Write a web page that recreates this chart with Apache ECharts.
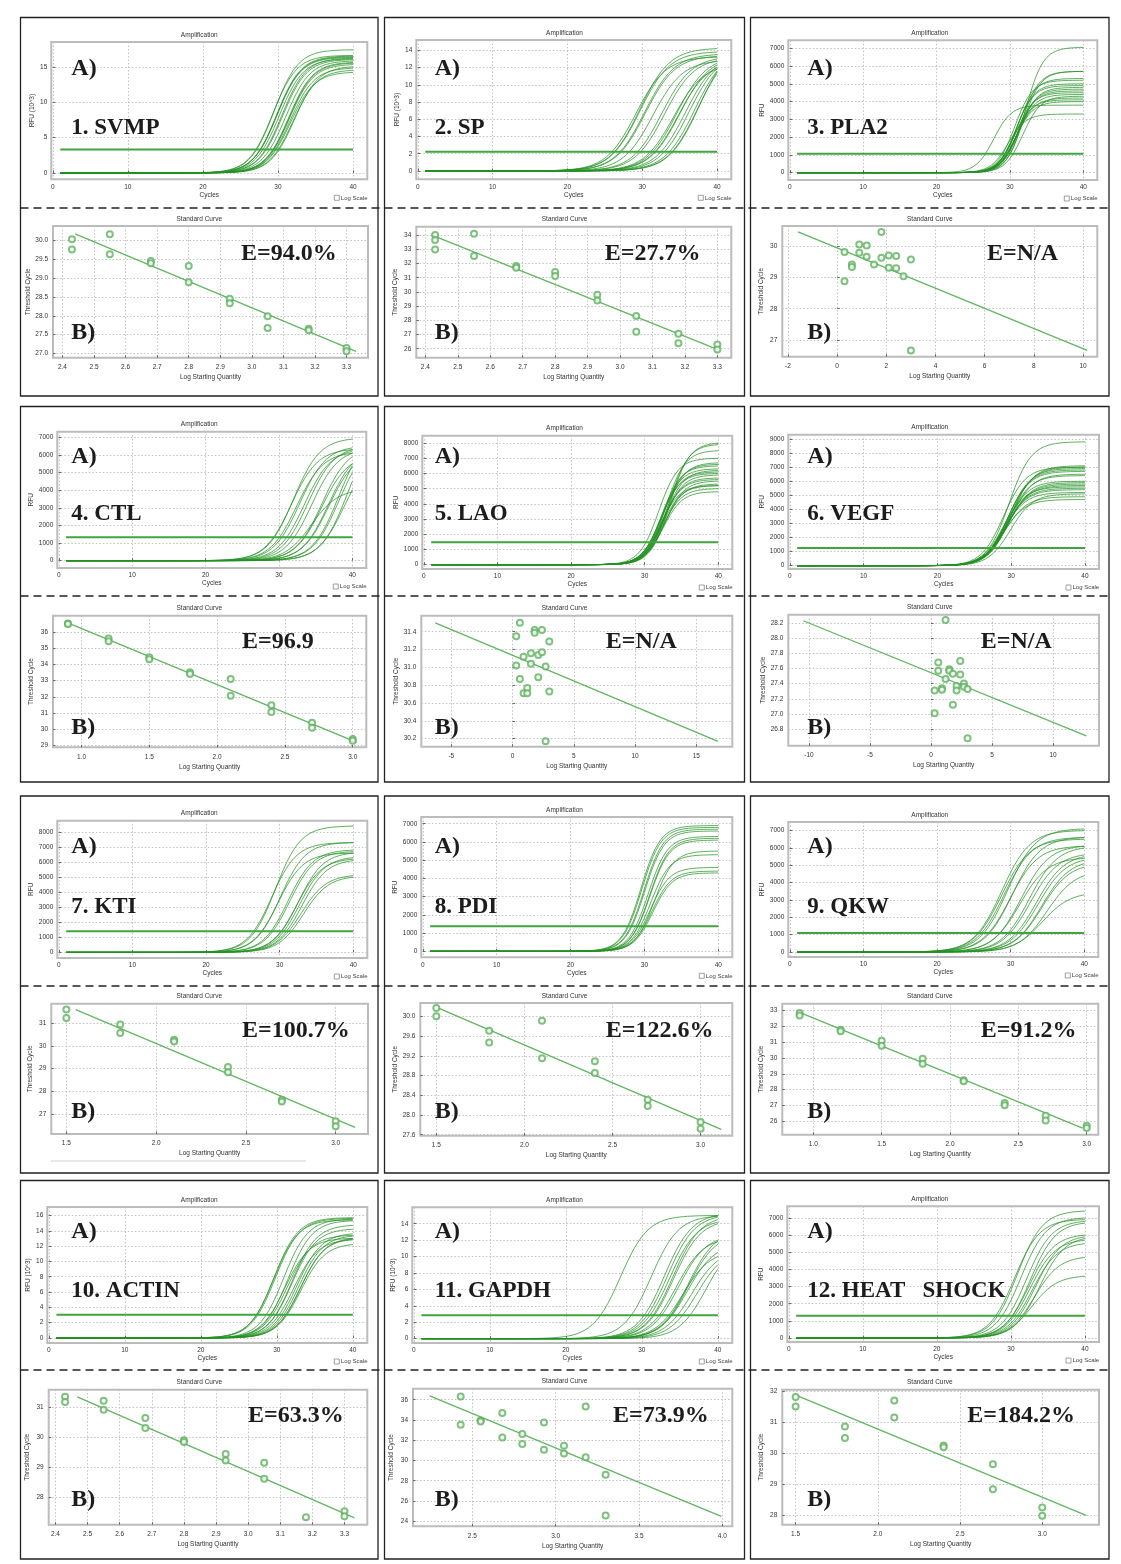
<!DOCTYPE html>
<html><head><meta charset="utf-8">
<script src="https://cdn.jsdelivr.net/npm/echarts@6/dist/echarts.min.js"></script>
<style>html,body{margin:0;padding:0;background:#fff}#c{width:1121px;height:1564px}</style>
</head><body><div id="c"></div><script>
// ================= DATA =================
const panelNames = ['1. SVMP','2. SP','3. PLA2','4. CTL','5. LAO','6. VEGF','7. KTI','8. PDI','9. QKW','10. ACTIN','11. GAPDH','12. HEAT   SHOCK'];
const efficiencyLabels = ['E=94.0%','E=27.7%','E=N/A','E=96.9','E=N/A','E=N/A','E=100.7%','E=122.6%','E=91.2%','E=63.3%','E=73.9%','E=184.2%'];
const ampTitle = 'Amplification', stdTitle = 'Standard Curve';
const ampXName = 'Cycles', stdXName = 'Log Starting Quantity', stdYName = 'Threshold Cycle';
const ampYNames = ['RFU (10^3)','RFU (10^3)','RFU','RFU','RFU','RFU','RFU','RFU','RFU','RFU (10^3)','RFU (10^3)','RFU'];

// tick labels
const ampXTicks = ['0','10','20','30','40'];
const ampYTicks = [
  ['0','5','10','15'],
  ['0','2','4','6','8','10','12','14'],
  ['0','1000','2000','3000','4000','5000','6000','7000'],
  ['0','1000','2000','3000','4000','5000','6000','7000'],
  ['0','1000','2000','3000','4000','5000','6000','7000','8000'],
  ['0','1000','2000','3000','4000','5000','6000','7000','8000','9000'],
  ['0','1000','2000','3000','4000','5000','6000','7000','8000'],
  ['0','1000','2000','3000','4000','5000','6000','7000'],
  ['0','1000','2000','3000','4000','5000','6000','7000'],
  ['0','2','4','6','8','10','12','14','16'],
  ['0','2','4','6','8','10','12','14'],
  ['0','1000','2000','3000','4000','5000','6000','7000']
];
const stdXTicks = [
  ['2.4','2.5','2.6','2.7','2.8','2.9','3.0','3.1','3.2','3.3'],
  ['2.4','2.5','2.6','2.7','2.8','2.9','3.0','3.1','3.2','3.3'],
  ['-2','0','2','4','6','8','10'],
  ['1.0','1.5','2.0','2.5','3.0'],
  ['-5','0','5','10','15'],
  ['-10','-5','0','5','10'],
  ['1.5','2.0','2.5','3.0'],
  ['1.5','2.0','2.5','3.0'],
  ['1.0','1.5','2.0','2.5','3.0'],
  ['2.4','2.5','2.6','2.7','2.8','2.9','3.0','3.1','3.2','3.3'],
  ['2.5','3.0','3.5','4.0'],
  ['1.5','2.0','2.5','3.0']
];
const stdYTicks = [
  ['27.0','27.5','28.0','28.5','29.0','29.5','30.0'],
  ['26','27','28','29','30','31','32','33','34'],
  ['27','28','29','30'],
  ['29','30','31','32','33','34','35','36'],
  ['30.2','30.4','30.6','30.8','31.0','31.2','31.4'],
  ['26.8','27.0','27.2','27.4','27.6','27.8','28.0','28.2'],
  ['27','28','29','30','31'],
  ['27.6','28.0','28.4','28.8','29.2','29.6','30.0'],
  ['26','27','28','29','30','31','32','33'],
  ['28','29','30','31'],
  ['24','26','28','30','32','34','36'],
  ['28','29','30','31','32']
];

// thresholds (RFU)
const thresholds = [3.3, 2.24, 1070, 1325, 1470, 1255, 1400, 1370, 1100, 3.04, 2.84, 1300];

// standard curve: log starting quantity, threshold cycle (Ct) ; amplification end RFU (cycle 40)
const logQ1 = [2.43,2.43,2.55,2.55,2.68,2.68,2.80,2.80,2.93,2.93,3.05,3.05,3.18,3.18,3.30,3.30];
const ct1   = [30.03,29.76,30.16,29.63,29.45,29.39,29.32,28.89,28.45,28.33,27.99,27.68,27.66,27.62,27.15,27.06];
const end1  = [14.5,14.2,15.0,14.8,15.3,15.5,15.6,15.8,16.0,16.2,16.1,16.3,16.4,16.5,17.4,16.6];
const fit1  = [[2.44,30.17],[3.33,27.06]];

const logQ2 = [2.43,2.43,2.43,2.55,2.55,2.68,2.68,2.80,2.80,2.93,2.93,3.05,3.05,3.18,3.18,3.30,3.30];
const ct2   = [34.0,33.65,32.99,34.1,32.52,31.82,31.70,31.40,31.12,29.80,29.40,28.30,27.20,27.06,26.38,26.30,25.95];
const end2  = [11.3,11.6,11.9,11.5,12.1,12.3,12.0,12.5,11.8,12.8,13.0,12.7,13.3,13.5,13.8,14.2,13.2];
const fit2  = [[2.42,34.0],[3.30,25.95]];

const logQ3 = [0.3,0.3,0.6,0.6,0.9,0.9,1.2,1.2,1.5,1.8,1.8,2.1,2.1,2.4,2.4,2.7,3.0,3.0];
const ct3   = [29.81,28.88,29.41,29.33,30.05,29.79,30.02,29.66,29.41,30.45,29.63,29.70,29.31,29.68,29.29,29.04,29.57,26.67];
const end3  = [5700,3300,5300,5000,7050,4800,5700,4600,4500,4300,4200,4400,4100,4700,4900,5200,4000,3800];
const fit3  = [[-1.59,30.45],[10.17,26.67]];

const logQ4 = [0.9,0.9,1.2,1.2,1.5,1.5,1.8,1.8,2.1,2.1,2.4,2.4,2.7,2.7,3.0,3.0];
const ct4   = [36.56,36.52,35.63,35.45,34.45,34.34,33.52,33.42,33.10,32.07,31.48,31.05,30.38,30.07,29.37,29.27];
const end4  = [4000,4500,5000,5400,5300,5500,5500,5900,3900,6100,6300,6200,6400,6100,6900,6300];
const fit4  = [[0.90,36.6],[3.03,29.16]];

const logQ5 = [0.6,0.3,0.3,0.9,0.6,0.9,1.2,1.2,1.5,1.5,1.8,1.8,2.1,2.1,2.4,2.4,2.7,2.7,3.0,3.0];
const ct5   = [31.50,31.35,31.02,31.12,30.87,30.71,30.77,30.71,31.16,31.04,31.42,31.39,31.14,30.89,31.42,31.17,31.01,30.17,31.29,30.73];
const end5  = [8000,7900,7500,6700,6600,6500,6100,6000,5900,5700,5500,5300,5200,5200,4800,6200,5600,7000,5000,6300];
const fit5  = [[-6.31,31.50],[16.77,30.17]];

const logQ6 = [1.2,0.6,0.6,0.9,0.9,0.3,0.3,1.2,1.5,1.5,1.8,1.8,2.1,2.1,2.4,2.4,2.7,2.7,3.0,3.0];
const ct6   = [28.24,27.68,27.57,27.34,27.32,27.31,27.01,27.46,27.59,27.57,27.53,27.12,27.37,27.31,27.70,27.52,27.40,27.36,27.33,26.68];
const end6  = [5100,7100,7000,6900,6800,6700,8800,6400,5900,5800,5700,5600,5500,5200,6500,4900,4700,5400,6000,7000];
const fit6  = [[-10.46,28.23],[12.73,26.71]];

const logQ7 = [1.5,1.5,1.8,1.8,2.1,2.1,2.4,2.4,2.7,2.7,3.0,3.0];
const ct7   = [31.59,31.22,30.93,30.56,30.27,30.19,29.07,28.83,27.63,27.55,26.68,26.46];
const end7  = [5000,5100,6100,6300,6600,6200,6700,6800,7300,6600,8400,7300];
const fit7  = [[1.552,31.59],[3.108,26.41]];

const logQ8 = [1.5,1.5,1.8,1.8,2.1,2.1,2.4,2.4,2.7,2.7,3.0,3.0];
const ct8   = [30.17,30.00,29.71,29.47,29.91,29.15,29.09,28.85,28.31,28.18,27.86,27.72];
const end8  = [4300,4400,4600,5300,5500,6100,6200,6300,6600,6700,6800,6900];
const fit8  = [[1.509,30.17],[3.117,27.71]];

const logQ9 = [0.9,0.9,1.2,1.2,1.5,1.5,1.8,1.8,2.1,2.1,2.4,2.4,2.7,2.7,3.0,3.0];
const ct9   = [32.83,32.68,31.78,31.68,31.09,30.77,29.95,29.64,28.59,28.53,27.16,27.01,26.36,26.06,25.73,25.58];
const end9  = [3300,4400,4900,5100,5300,5500,5600,6000,5400,6100,6600,6100,7100,6600,6500,7000];
const fit9  = [[0.89,32.9],[2.97,25.58]];

const logQ10 = [2.43,2.43,2.55,2.55,2.68,2.68,2.80,2.80,2.93,2.93,3.05,3.05,3.18,3.30,3.30];
const ct10   = [31.35,31.18,31.22,30.92,30.64,30.31,29.90,29.84,29.44,29.22,29.14,28.61,27.32,27.52,27.35];
const end10  = [12.2,12.9,13.0,13.3,13.6,12.8,14.2,14.7,13.4,15.3,13.0,15.5,15.7,15.6,15.4];
const fit10  = [[2.468,31.35],[3.331,27.30]];

const logQ11 = [2.43,2.43,2.55,2.55,2.68,2.68,2.80,2.80,2.93,2.93,3.05,3.05,3.18,3.18,3.30,3.30];
const ct11   = [36.33,33.53,33.96,33.86,34.68,32.28,32.61,31.62,33.76,31.07,31.46,30.70,35.34,30.31,28.60,24.56];
const end11  = [8.5,10.0,10.5,11.5,9.5,11.8,12.0,14.0,11.9,14.2,14.5,14.8,9.0,15.0,14.9,15.0];
const fit11  = [[2.244,36.39],[3.994,24.49]];

const logQ12 = [1.5,1.5,1.8,1.8,2.1,2.1,2.4,2.4,2.7,2.7,3.0,3.0];
const ct12   = [31.81,31.51,30.86,30.49,31.70,31.15,30.24,30.19,29.64,28.83,28.24,27.97];
const end12  = [3600,4700,5500,5700,5800,5900,6000,6700,6800,7000,7400,6900];
const fit12  = [[1.516,31.84],[3.267,27.98]];

// ================= LAYOUT (positions / scales) =================
const boxX = [20.5, 384.5, 750.5], boxW = [357.5, 360, 358.5];
const boxY = [17.5, 406.5, 796, 1180.5], boxH = [378.5, 375.5, 377, 378.5];
const dashY = [208, 596, 986, 1370];
const ampFrames = [
 [51.3,42,367.3,179.3],[416.3,40,731.3,179.3],[788.3,40.3,1097.3,180],
 [57.3,431.7,366.3,568],[422.3,435.7,732.3,569],[788.3,434.7,1099,569],
 [57.3,820.7,367.3,958],[421.3,817,732.3,957.3],[788.3,822,1098.3,957],
 [47.3,1207,367.3,1343],[412.3,1207.3,732.3,1343],[787.3,1206.3,1099,1342]];
const stdFrames = [
 [53,226,368,357.7],[416.3,226.7,731.3,357.7],[782.3,226,1097.3,356.7],
 [53,615.7,366.3,747.3],[421.3,615.7,732.3,746.7],[788.3,614.7,1099,745.7],
 [51.3,1003.7,368,1134],[420.3,1003,732.3,1135.7],[782.3,1003.7,1098.3,1134.7],
 [48.7,1389.7,367.3,1524.7],[413,1388.7,732.3,1526.3],[782.3,1389.7,1099,1524.7]];
const ampXRange = [-0.2, 41.9];
const ampYRange = [[-0.9,18.5],[-0.97,15.2],[-413,7450],[-416,7320],[-285,8490],[-237,9310],[-377,8760],[-330,7370],[-290,7500],[-0.65,17.1],[-0.53,16.0],[-233,7680]];
const stdXRange = [[2.37,3.368],[2.372,3.343],[-2.23,10.58],[0.79,3.10],[-7.45,17.94],[-11.69,13.77],[1.416,3.18],[1.409,3.18],[0.773,3.085],[2.379,3.371],[2.144,4.06],[1.419,3.345]];
const stdYRange = [[26.89,30.38],[25.37,34.59],[26.47,30.64],[28.86,37.04],[30.11,31.58],[26.58,28.31],[26.12,31.85],[27.58,30.27],[25.16,33.42],[27.07,31.59],[23.5,37.09],[27.68,32.05]];
const curveSteep = [1.6, 2.0, 1.2, 1.8, 1.3, 1.5, 1.7, 1.3, 1.9, 1.6, 1.8, 1.7];
const labelAX = [71.3, 434.7, 807.3];
const labelAY = [69, 457, 846.3, 1231.3];
const nameY = [128, 514, 907.3, 1291.3];
const labelBY = [333, 727.3, 1111.3, 1499.5];
const effX = [241, 604.7, 987, 242, 605.7, 980.7, 242, 605.7, 980.7, 248, 613, 967.3];
const effY = [253.5, 641.5, 1030.3, 1415.8];

// ================= BUILD =================
const logQs = [logQ1,logQ2,logQ3,logQ4,logQ5,logQ6,logQ7,logQ8,logQ9,logQ10,logQ11,logQ12];
const cts = [ct1,ct2,ct3,ct4,ct5,ct6,ct7,ct8,ct9,ct10,ct11,ct12];
const ends = [end1,end2,end3,end4,end5,end6,end7,end8,end9,end10,end11,end12];
const fits = [fit1,fit2,fit3,fit4,fit5,fit6,fit7,fit8,fit9,fit10,fit11,fit12];

const cycles = [];
for (let c = 1; c <= 40.001; c += 0.5) cycles.push(c);

// amplification trace anchored on the read threshold cycle and the read end RFU
function trace(ct, end, thr, s) {
  const k = Math.exp((ct - 40) / s);
  let A = (end - thr) / Math.max(thr - end * k, thr * 0.05);
  const P = thr * (1 + A);
  const m = ct + s * Math.log(A);
  return cycles.map(c => [c, P / (1 + Math.exp(-(c - m) / s))]);
}

const FONT = 'Liberation Sans';
function axis(gridIndex, range, ticks, name, nameGap, margin) {
  const vals = ticks.map(Number);
  const dec = ticks[ticks.length - 1].includes('.') ? ticks[ticks.length - 1].split('.')[1].length : 0;
  return {
    type: 'value', gridIndex, min: range[0], max: range[1],
    name, nameLocation: 'middle', nameGap,
    nameTextStyle: { fontSize: 6.5, color: '#333', fontFamily: FONT },
    axisLine: { show: false },
    axisTick: { show: true, inside: true, length: 2.5, customValues: vals, lineStyle: { color: '#666', width: 1 } },
    axisLabel: { customValues: vals, fontSize: 6.5, color: '#333', fontFamily: FONT, margin, formatter: v => Number(v).toFixed(dec) },
    splitLine: { show: true, lineStyle: { color: '#c2c2c2', type: [1.5, 2], width: 1 } }
  };
}

const grids = [], xAxes = [], yAxes = [], series = [], graphics = [];

for (let i = 0; i < 12; i++) {
  const col = i % 3, row = Math.floor(i / 3);
  const fa = ampFrames[i], fs = stdFrames[i];
  const gA = 2 * i, gS = 2 * i + 1;
  grids.push({ left: fa[0], top: fa[1], width: fa[2] - fa[0], height: fa[3] - fa[1], show: true, borderColor: '#bcbcbc', borderWidth: 2, backgroundColor: '#fff' });
  grids.push({ left: fs[0], top: fs[1], width: fs[2] - fs[0], height: fs[3] - fs[1], show: true, borderColor: '#bcbcbc', borderWidth: 2, backgroundColor: '#fff' });
  xAxes.push(axis(gA, ampXRange, ampXTicks, ampXName, 12, 4));
  yAxes.push(axis(gA, ampYRange[i], ampYTicks[i], ampYNames[i], 15, 4));
  xAxes.push(axis(gS, stdXRange[i], stdXTicks[i], stdXName, 16, 6));
  yAxes.push(axis(gS, stdYRange[i], stdYTicks[i], stdYName, 18, 5));

  // amplification traces
  const s = curveSteep[i];
  cts[i].forEach((ct, j) => {
    series.push({ type: 'line', xAxisIndex: gA, yAxisIndex: gA, data: trace(ct, ends[i][j], thresholds[i], s),
      showSymbol: false, silent: true, animation: false, lineStyle: { width: 1, color: 'rgba(35,145,35,0.72)' }, z: 2 });
  });
  // threshold
  series.push({ type: 'line', xAxisIndex: gA, yAxisIndex: gA, data: [[1, thresholds[i]], [40, thresholds[i]]],
    showSymbol: false, silent: true, animation: false, lineStyle: { width: 2, color: '#3fa63f' }, z: 3 });
  // standard curve fit line
  series.push({ type: 'line', xAxisIndex: gS, yAxisIndex: gS, data: fits[i],
    showSymbol: false, silent: true, animation: false, lineStyle: { width: 1.3, color: '#62b662' }, z: 2 });
  // standard points
  series.push({ type: 'scatter', xAxisIndex: gS, yAxisIndex: gS, data: logQs[i].map((x, j) => [x, cts[i][j]]),
    symbol: 'emptyCircle', symbolSize: 6, silent: true, animation: false,
    itemStyle: { color: '#5fb25f', borderWidth: 0.9 }, z: 3 });

  // titles
  const bc = boxX[col] + boxW[col] / 2;
  graphics.push({ type: 'text', x: bc, y: fa[1] - 7, style: { text: ampTitle, font: '6.5px "Liberation Sans"', fill: '#333', align: 'center', verticalAlign: 'middle', textAlign: 'center', textVerticalAlign: 'middle' } });
  graphics.push({ type: 'text', x: bc, y: fs[1] - 7, style: { text: stdTitle, font: '6.5px "Liberation Sans"', fill: '#333', align: 'center', verticalAlign: 'middle', textAlign: 'center', textVerticalAlign: 'middle' } });
  // Log scale checkbox
  graphics.push({ type: 'rect', shape: { x: fa[2] - 33, y: fa[3] + 16, width: 5, height: 5 }, style: { fill: '#fff', stroke: '#888', lineWidth: 0.8 } });
  graphics.push({ type: 'text', x: fa[2] - 26.5, y: fa[3] + 18.7, style: { text: 'Log Scale', font: '6px "Liberation Sans"', fill: '#444', align: 'left', verticalAlign: 'middle', textAlign: 'left', textVerticalAlign: 'middle' } });

  // big labels
  const big = (t, x, y, size) => graphics.push({ type: 'text', x, y, z: 100,
    style: { text: t, font: 'bold ' + size + 'px "Liberation Serif"', fill: '#1c1c1c', align: 'left', verticalAlign: 'middle', textAlign: 'left', textVerticalAlign: 'middle' } });
  big('A)', labelAX[col], labelAY[row], 24);
  big(panelNames[i], labelAX[col], nameY[row], 23);
  big('B)', labelAX[col], labelBY[row], 24);
  big(efficiencyLabels[i], effX[i], effY[row], 24);
}

// boxes
for (let r = 0; r < 4; r++) for (let c = 0; c < 3; c++) {
  graphics.push({ type: 'rect', z: 50, shape: { x: boxX[c], y: boxY[r], width: boxW[c], height: boxH[r] }, style: { fill: 'none', stroke: '#222', lineWidth: 1.3 } });
}
// dashed separators
dashY.forEach(y => graphics.push({ type: 'line', z: 50, shape: { x1: boxX[0], y1: y, x2: boxX[2] + boxW[2], y2: y }, style: { stroke: '#222', lineWidth: 1.6, lineDash: [8, 5] } }));
// stray grey rule under panel 7
graphics.push({ type: 'line', shape: { x1: 51, y1: 1161, x2: 306, y2: 1161 }, style: { stroke: '#cfcfcf', lineWidth: 1 } });

const chart = echarts.init(document.getElementById('c'), null, { renderer: 'canvas' });
chart.setOption({
  backgroundColor: '#fff',
  animation: false,
  grid: grids, xAxis: xAxes, yAxis: yAxes, series,
  graphic: { elements: graphics }
});
</script></body></html>
